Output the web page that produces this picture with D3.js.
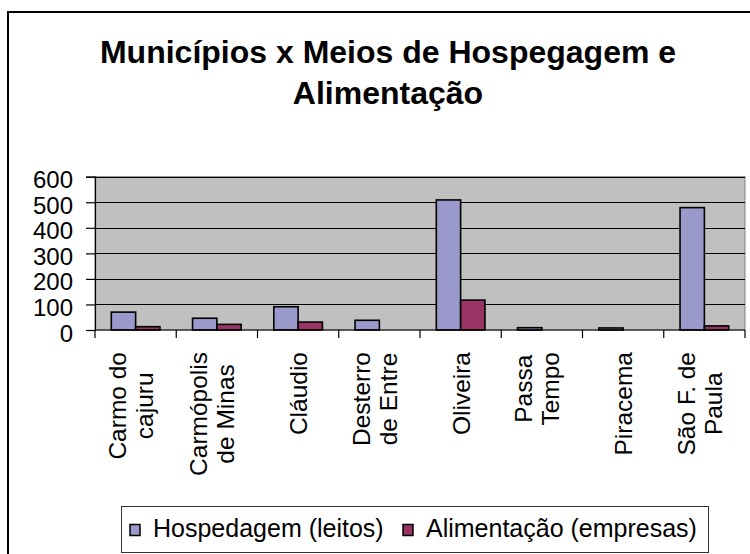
<!DOCTYPE html>
<html>
<head>
<meta charset="utf-8">
<script src="https://cdn.jsdelivr.net/npm/d3@7"></script>
<style>
  html, body { margin: 0; padding: 0; background: #fff; }
  svg { display: block; }
  text { font-family: "Liberation Sans", Arial, sans-serif; fill: #000; }
</style>
</head>
<body>
<svg id="chart" width="750" height="554"></svg>
<script>
// ---- data ----
const categories = ["Carmo do\ncajuru", "Carmópolis\nde Minas", "Cláudio", "Desterro\nde Entre",
                    "Oliveira", "Passa\nTempo", "Piracema", "São F. de\nPaula"];
const seriesNames = ["Hospedagem (leitos)", "Alimentação (empresas)"];
const hospedagem = [70, 46, 91, 38, 509, 9, 8, 479];
const alimentacao = [13, 22, 31, 0, 117, 0, 0, 16];
const yTicks = [0, 100, 200, 300, 400, 500, 600];
const titleLines = ["Municípios x Meios de Hospegagem e", "Alimentação"];

// ---- layout ----
const colors = ["#9999cc", "#993366"];
const svg = d3.select("#chart");
const plot = { left: 95, right: 745, top: 176.7, bottom: 330 };

// outer frame
svg.append("rect").attr("x", 8).attr("y", 12).attr("width", 760).attr("height", 560)
  .attr("fill", "#fff").attr("stroke", "#000").attr("stroke-width", 2);

// title
svg.append("g").selectAll("text").data(titleLines).join("text")
  .attr("x", 388).attr("y", (d, i) => 63 + i * 41)
  .attr("text-anchor", "middle").attr("font-size", 32).attr("font-weight", "bold")
  .text(d => d);

const x = d3.scaleBand().domain(d3.range(categories.length)).range([plot.left, plot.right]).padding(0);
const xInner = d3.scaleBand().domain([0, 1]).range([0, x.bandwidth()]).paddingOuter(0.67).paddingInner(0);
const y = d3.scaleLinear().domain([0, 600]).range([plot.bottom, plot.top]);

// plot background
svg.append("rect").attr("x", plot.left).attr("y", plot.top)
  .attr("width", plot.right - plot.left).attr("height", plot.bottom - plot.top)
  .attr("fill", "#c0c0c0").attr("stroke", "#808080").attr("stroke-width", 1);

// gridlines
svg.append("g").selectAll("line").data(yTicks.filter(d => d > 0)).join("line")
  .attr("x1", plot.left).attr("x2", plot.right)
  .attr("y1", d => Math.round(y(d)) + 0.5).attr("y2", d => Math.round(y(d)) + 0.5)
  .attr("stroke", "#000").attr("stroke-width", 1);

// bars
const series = [hospedagem, alimentacao];
const bars = svg.append("g");
series.forEach((vals, si) => {
  const pts = vals.map((v, i) => ({ v, i })).filter(p => p.v > 0);
  bars.selectAll(null).data(pts).join("rect")
    .attr("x", p => x(p.i) + xInner(si))
    .attr("y", p => y(p.v))
    .attr("width", xInner.bandwidth())
    .attr("height", p => y(0) - y(p.v))
    .attr("fill", colors[si]).attr("stroke", "#000").attr("stroke-width", 1.6);
});

// y axis
const yAxis = svg.append("g").attr("transform", `translate(${plot.left},0)`)
  .call(d3.axisLeft(y).tickValues(yTicks).tickSize(9).tickPadding(13).tickFormat(d3.format("d")));
yAxis.select(".domain").attr("stroke", "#000").attr("stroke-width", 1.2);
yAxis.selectAll(".tick line").attr("stroke", "#000").attr("stroke-width", 1.2);
yAxis.selectAll(".tick text").attr("font-size", 24).attr("dy", null).attr("y", 11)
  .attr("font-family", "Liberation Sans, Arial, sans-serif").attr("fill", "#000");

// x axis line and ticks at category boundaries
svg.append("line").attr("x1", plot.left).attr("x2", plot.right)
  .attr("y1", plot.bottom).attr("y2", plot.bottom).attr("stroke", "#000").attr("stroke-width", 1.2);
const boundaries = d3.range(categories.length + 1).map(i => i < categories.length ? x(i) : plot.right);
svg.append("g").selectAll("line").data(boundaries).join("line")
  .attr("x1", d => d).attr("x2", d => d)
  .attr("y1", plot.bottom).attr("y2", plot.bottom + 8)
  .attr("stroke", "#000").attr("stroke-width", 1.2);

// x labels (rotated)
categories.forEach((c, i) => {
  const lines = c.split("\n");
  const cx = x(i) + x.bandwidth() / 2;
  const g = svg.append("g").attr("transform", `translate(${cx},352) rotate(-90)`);
  const texts = g.selectAll("text").data(lines).join("text")
    .attr("font-size", 24.5).attr("text-anchor", "middle")
    .attr("y", (d, j) => (lines.length === 1 ? 9 : -9.5) + j * 27)
    .text(d => d);
  let maxW = 0;
  texts.each(function () { maxW = Math.max(maxW, this.getComputedTextLength()); });
  texts.attr("x", -maxW / 2);
});

// legend
const lg = svg.append("g");
lg.append("rect").attr("x", 121.5).attr("y", 506.5).attr("width", 587).attr("height", 46)
  .attr("fill", "#fff").attr("stroke", "#333").attr("stroke-width", 1);
const legendX = [130, 403];
seriesNames.forEach((n, i) => {
  lg.append("rect").attr("x", legendX[i]).attr("y", 524.5).attr("width", 10).attr("height", 11)
    .attr("fill", colors[i]).attr("stroke", "#000").attr("stroke-width", 1.5);
  lg.append("text").attr("x", legendX[i] + 23).attr("y", 537).attr("font-size", 25).text(n);
});
</script>
</body>
</html>
